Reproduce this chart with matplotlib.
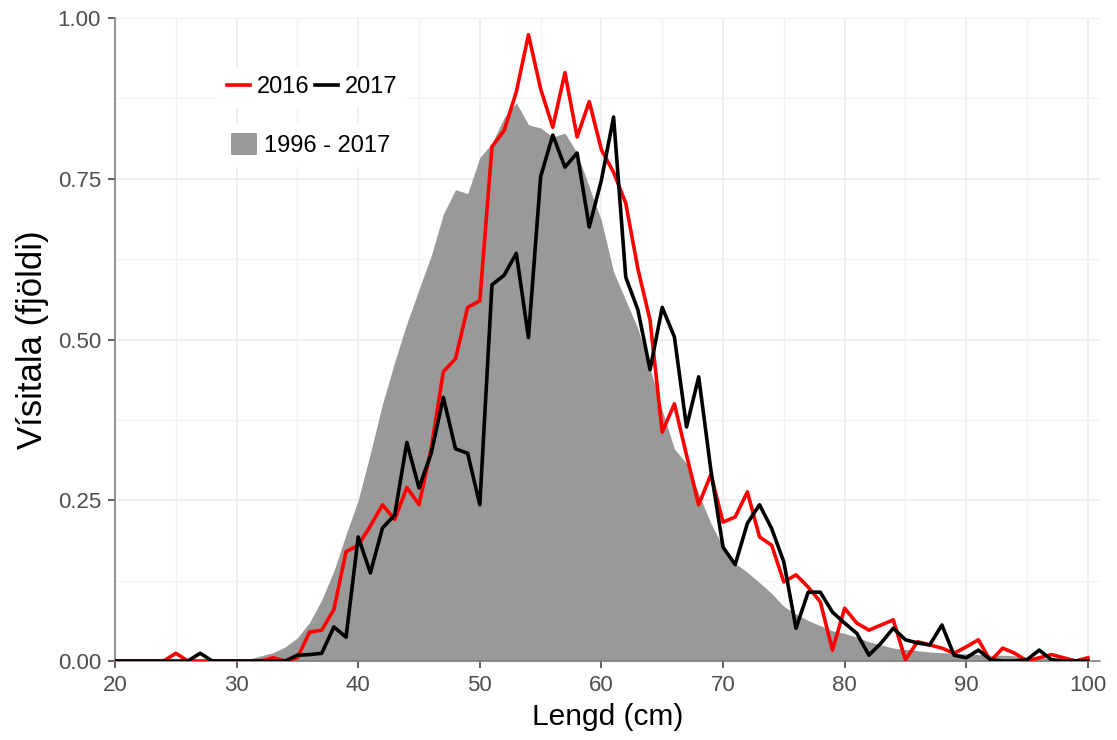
import numpy as np
import matplotlib
matplotlib.use("Agg")
import matplotlib.pyplot as plt
from matplotlib.lines import Line2D
from matplotlib.patches import Patch

plt.rcParams['font.family'] = ['Liberation Sans', 'DejaVu Sans']

lengd = list(range(20, 101))

v2016 = [0, 0, 0, 0, 0, 0.012, 0, 0, 0, 0,
         0, 0, 0, 0.005, 0, 0.005, 0.045, 0.048, 0.08, 0.17,
         0.18, 0.21, 0.243, 0.22, 0.27, 0.243, 0.33, 0.45, 0.47, 0.55,
         0.56, 0.80, 0.825, 0.885, 0.974, 0.89, 0.83, 0.915, 0.815, 0.87,
         0.795, 0.76, 0.712, 0.61, 0.53, 0.356, 0.40, 0.32, 0.243, 0.29,
         0.216, 0.224, 0.263, 0.193, 0.18, 0.123, 0.134, 0.115, 0.092, 0.017,
         0.082, 0.059, 0.048, 0.056, 0.064, 0.002, 0.03, 0.025, 0.02, 0.012,
         0.022, 0.033, 0.0, 0.02, 0.012, 0.0, 0.005, 0.01, 0.005, 0.0,
         0.005]

v2017 = [0, 0, 0, 0, 0, 0, 0, 0.012, 0, 0,
         0, 0, 0, 0, 0, 0.009, 0.01, 0.012, 0.053, 0.037,
         0.193, 0.137, 0.207, 0.227, 0.34, 0.269, 0.323, 0.41, 0.33, 0.323,
         0.243, 0.585, 0.60, 0.634, 0.503, 0.753, 0.818, 0.768, 0.79, 0.675,
         0.748, 0.846, 0.597, 0.546, 0.453, 0.55, 0.504, 0.364, 0.442, 0.297,
         0.177, 0.15, 0.214, 0.243, 0.206, 0.154, 0.051, 0.107, 0.107, 0.076,
         0.059, 0.043, 0.009, 0.028, 0.051, 0.033, 0.028, 0.025, 0.056, 0.009,
         0.005, 0.017, 0.002, 0, 0, 0.002, 0.017, 0.002, 0, 0,
         0]

v1996_2017 = [0, 0, 0, 0, 0, 0, 0, 0, 0, 0,
              0, 0.003, 0.008, 0.013, 0.022, 0.036, 0.06, 0.095, 0.14, 0.197,
              0.25, 0.323, 0.40, 0.465, 0.525, 0.578, 0.63, 0.695, 0.733, 0.727,
              0.783, 0.805, 0.845, 0.868, 0.834, 0.829, 0.815, 0.821, 0.79, 0.737,
              0.685, 0.605, 0.561, 0.517, 0.455, 0.39, 0.33, 0.307, 0.26, 0.214,
              0.178, 0.152, 0.138, 0.122, 0.105, 0.085, 0.073, 0.063, 0.055, 0.047,
              0.043, 0.037, 0.03, 0.025, 0.02, 0.018, 0.016, 0.014, 0.013, 0.012,
              0.011, 0.010, 0.009, 0.009, 0.008, 0.006, 0.005, 0.004, 0.003, 0.002,
              0.002]

x_ticks = [20, 30, 40, 50, 60, 70, 80, 90, 100]
y_ticks = [0.0, 0.25, 0.5, 0.75, 1.0]
y_ticklabels = ["0.00", "0.25", "0.50", "0.75", "1.00"]

fig = plt.figure(figsize=(11.17, 7.40), dpi=100)
ax = fig.add_axes([115/1117, 79/740, (1100-115)/1117, (661-18)/740])

ax.fill_between(lengd, 0, v1996_2017, color='#999999', linewidth=0, zorder=2)
ax.plot(lengd, v2016, color='#FF0000', lw=2.6, zorder=3)
ax.plot(lengd, v2017, color='black', lw=2.6, zorder=4)

ax.set_xlim(20, 101)
ax.set_ylim(0, 1.0)
ax.set_xticks(x_ticks)
ax.set_xticks(np.arange(25, 100, 10), minor=True)
ax.set_yticks(y_ticks)
ax.set_yticklabels(y_ticklabels)
ax.set_yticks([0.125, 0.375, 0.625, 0.875], minor=True)

ax.grid(which='major', color='#EBEBEB', lw=1.1, zorder=0)
ax.grid(which='minor', color='#F2F2F2', lw=0.9, zorder=0)
ax.set_axisbelow(True)

for s in ['top', 'right']:
    ax.spines[s].set_visible(False)
for s in ['left', 'bottom']:
    ax.spines[s].set_color('#7F7F7F')
    ax.spines[s].set_linewidth(1.2)

ax.tick_params(axis='both', which='major', length=5, width=1.3, color='#555555',
               labelsize=16, labelcolor='#4D4D4D', pad=5)
ax.tick_params(axis='both', which='minor', length=0)

ax.set_xlabel('Lengd (cm)', fontsize=21.5, color='black', labelpad=5)
ax.set_ylabel('Vísitala (fjöldi)', fontsize=25, color='black', labelpad=6)

h1 = [Line2D([0], [0], color='#FF0000', lw=2.6), Line2D([0], [0], color='black', lw=2.6)]
leg1 = ax.legend(h1, ['2016', '2017'], ncol=2, loc='center left',
                 bbox_to_anchor=(218/1117, (740-87)/740), bbox_transform=fig.transFigure,
                 frameon=True, fancybox=False, framealpha=1, edgecolor='white',
                 fontsize=17, handlelength=0.95, handletextpad=0.3, columnspacing=0.25,
                 borderpad=0.4, borderaxespad=0)
leg1.get_frame().set_linewidth(0)
ax.add_artist(leg1)

h2 = [Patch(facecolor='#999999', edgecolor='none')]
leg2 = ax.legend(h2, ['1996 - 2017'], loc='center left',
                 bbox_to_anchor=(222/1117, (740-145)/740), bbox_transform=fig.transFigure,
                 frameon=True, fancybox=False, framealpha=1, edgecolor='white',
                 fontsize=17, handlelength=1.1, handleheight=1.1, handletextpad=0.3,
                 borderpad=0.4, borderaxespad=0)
leg2.get_frame().set_linewidth(0)

fig.savefig('out.png', dpi=100, facecolor='white')
